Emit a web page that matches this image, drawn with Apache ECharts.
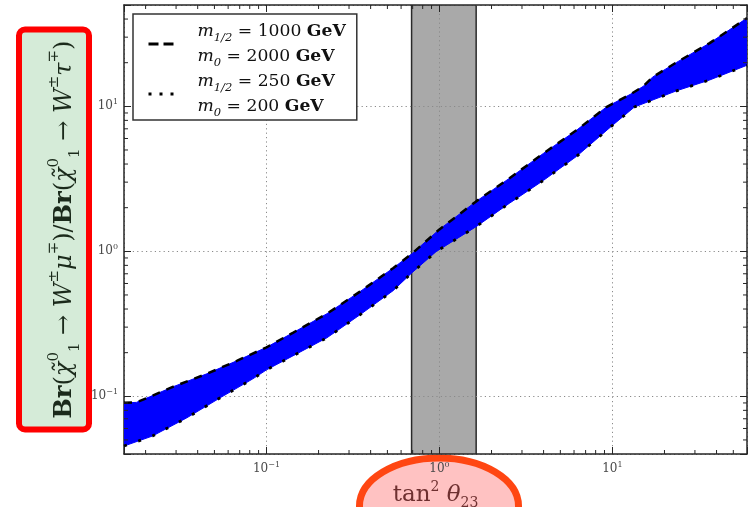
<!DOCTYPE html>
<html>
<head>
<meta charset="utf-8">
<script src="https://cdn.jsdelivr.net/npm/echarts@6/dist/echarts.min.js"></script>
<style>
  html, body { margin: 0; padding: 0; background: #fff; }
  #chart { width: 752px; height: 507px; }
</style>
</head>
<body>
<div id="chart"></div>
<script>
// Edge of the ratio band for (m1/2, m0) = (1000, 2000) GeV  -- upper, dashed
const upperX = [0.015, 0.0177, 0.0211, 0.0287, 0.0451, 0.0673, 0.1, 0.142, 0.2235, 0.347, 0.539, 0.694, 0.995, 1.63, 2.53, 3.985, 6.19, 9.23, 12.7, 15.1, 17.05, 23.5, 36.5, 60];
const upperY = [0.0901, 0.0908, 0.0991, 0.1161, 0.1428, 0.1756, 0.2178, 0.274, 0.371, 0.527, 0.765, 0.964, 1.41, 2.21, 3.18, 4.73, 6.83, 9.89, 12.1, 13.75, 15.9, 20.1, 27.3, 40.6];
// Edge of the ratio band for (m1/2, m0) = (250, 200) GeV  -- lower, dotted
const lowerX = [0.015, 0.0219, 0.0345, 0.0551, 0.0833, 0.1, 0.142, 0.2235, 0.347, 0.539, 0.694, 0.956, 1.63, 2.53, 3.985, 6.19, 10, 13.4, 23.5, 36.5, 60];
const lowerY = [0.0454, 0.0532, 0.0709, 0.0991, 0.1319, 0.1522, 0.190, 0.2533, 0.365, 0.535, 0.7125, 0.995, 1.48, 2.14, 3.08, 4.51, 7.39, 9.89, 12.8, 15.2, 19.2];
// Experimentally allowed tan^2(theta_23) interval
const allowedRange = [0.69, 1.63];

// Axis extents
const xRange = [0.015, 60];
const yRange = [0.04, 50];

// Legend entries
const seriesNames = ['m1/2 = 1000 GeV, m0 = 2000 GeV', 'm1/2 = 250 GeV, m0 = 200 GeV'];
const legendText = {
  'm1/2 = 1000 GeV, m0 = 2000 GeV': ['1000', '2000'],
  'm1/2 = 250 GeV, m0 = 200 GeV': ['250', '200']
};

// Minor tick mantissas of a log axis
const minorMantissas = [2, 3, 4, 5, 6, 7, 8, 9];

function minorTicks(range) {
  const out = [];
  for (let e = Math.floor(Math.log10(range[0])); e <= Math.ceil(Math.log10(range[1])); e++) {
    minorMantissas.forEach(function (m) {
      const v = m * Math.pow(10, e);
      if (v > range[0] * 1.0001 && v < range[1] * 0.9999) out.push(v);
    });
  }
  return out;
}
const minorX = minorTicks(xRange);
const minorY = minorTicks(yRange);

const serif = '"DejaVu Serif", "Liberation Serif", serif';
const frameColor = '#262626';

function powLabel(v) {
  const l = Math.log10(v);
  const e = Math.round(l);
  if (Math.abs(l - e) > 1e-6) return '';
  return '{b|10}{s|' + (e < 0 ? '\u2212' + (-e) : String(e)) + '}';
}
const powRich = {
  b: { fontFamily: serif, fontSize: 12, color: '#4a4a4a', lineHeight: 16 },
  s: { fontFamily: serif, fontSize: 8, color: '#4a4a4a', lineHeight: 8, verticalAlign: 'top' }
};

function axisBase(kind, pos, range, withLabels) {
  return {
    type: 'log',
    logBase: 10,
    position: pos,
    min: range[0],
    max: range[1],
    z: 1,
    axisLine: { show: true, onZero: false, lineStyle: { color: frameColor, width: 1.5 } },
    axisTick: { show: true, inside: true, length: 7, lineStyle: { color: frameColor, width: 1 } },
    minorTick: { show: false },
    axisLabel: withLabels ? {
      show: true, formatter: powLabel, margin: kind === 'x' ? 7 : 6, rich: powRich,
      showMinLabel: true, showMaxLabel: true
    } : { show: false },
    splitLine: withLabels ? { show: true, lineStyle: { color: '#8a8a8a', width: 1, type: [1.2, 3.2] } } : { show: false }
  };
}

const xName = '{t|tan}{s|2}{t| }{i|\u03b8}{u|23}';
const yName = '{b|Br}{n|(}{i|\u03c7\u0303}{sup|0}{sub|1}{n| \u2192 }{i|W}{sup|\u00b1}{i|\u03bc}{sup|\u2213}{n|)/}' +
              '{b|Br}{n|(}{i|\u03c7\u0303}{sup|0}{sub|1}{n| \u2192 }{i|W}{sup|\u00b1}{i|\u03c4}{sup|\u2213}{n|)}';

const xAxisBottom = axisBase('x', 'bottom', xRange, true);
xAxisBottom.name = xName;
xAxisBottom.nameLocation = 'middle';
xAxisBottom.nameGap = 23;
xAxisBottom.nameTextStyle = {
  rich: {
    t: { fontFamily: serif, fontSize: 23, color: '#6e3030', lineHeight: 30 },
    i: { fontFamily: serif, fontStyle: 'italic', fontSize: 23, color: '#6e3030', lineHeight: 30 },
    s: { fontFamily: serif, fontSize: 14, color: '#6e3030', lineHeight: 14, verticalAlign: 'top' },
    u: { fontFamily: serif, fontSize: 14, color: '#6e3030', lineHeight: 12, verticalAlign: 'bottom' }
  }
};

const yAxisLeft = axisBase('y', 'left', yRange, true);
yAxisLeft.name = yName;
yAxisLeft.nameLocation = 'middle';
yAxisLeft.nameGap = 38;
yAxisLeft.nameRotate = 90;
yAxisLeft.nameMoveOverlap = false;
const yNameColor = '#1b2a1b';
yAxisLeft.nameTextStyle = {
  backgroundColor: '#d5ebd8',
  borderColor: '#ff0000',
  borderWidth: 6,
  borderRadius: 3,
  padding: [25, 8, 3, 8],
  rich: {
    b: { fontFamily: serif, fontWeight: 'bold', fontSize: 24, color: yNameColor, lineHeight: 36 },
    n: { fontFamily: serif, fontSize: 24, color: yNameColor, lineHeight: 36 },
    i: { fontFamily: serif, fontStyle: 'italic', fontSize: 24, color: yNameColor, lineHeight: 36 },
    sup: { fontFamily: serif, fontSize: 15, color: yNameColor, lineHeight: 17, verticalAlign: 'top' },
    sub: { fontFamily: serif, fontSize: 15, color: yNameColor, lineHeight: 15, verticalAlign: 'bottom' }
  }
};

function renderAllowed(params, api) {
  const cs = params.coordSys;
  const x0 = api.coord([api.value(0), 1])[0];
  const x1 = api.coord([api.value(1), 1])[0];
  return {
    type: 'group',
    children: [
      { type: 'rect', shape: { x: x0, y: cs.y, width: x1 - x0, height: cs.height }, style: { fill: '#a9a9a9' } },
      { type: 'line', shape: { x1: x0, y1: cs.y, x2: x0, y2: cs.y + cs.height }, style: { stroke: '#2a2a2a', lineWidth: 1.5 } },
      { type: 'line', shape: { x1: x1, y1: cs.y, x2: x1, y2: cs.y + cs.height }, style: { stroke: '#2a2a2a', lineWidth: 1.5 } }
    ]
  };
}

function renderBand(params, api) {
  const pts = [];
  for (let i = 0; i < upperX.length; i++) pts.push(api.coord([upperX[i], upperY[i]]));
  for (let i = lowerX.length - 1; i >= 0; i--) pts.push(api.coord([lowerX[i], lowerY[i]]));
  return { type: 'polygon', shape: { points: pts }, style: { fill: '#0000ff', stroke: '#0000ff', lineWidth: 1 } };
}

function renderMinor(params, api) {
  const cs = params.coordSys;
  const st = { stroke: frameColor, lineWidth: 1 };
  const kids = [];
  const len = 4;
  minorX.forEach(function (v) {
    const x = api.coord([v, 1])[0];
    kids.push({ type: 'line', shape: { x1: x, y1: cs.y + cs.height, x2: x, y2: cs.y + cs.height - len }, style: st });
    kids.push({ type: 'line', shape: { x1: x, y1: cs.y, x2: x, y2: cs.y + len }, style: st });
  });
  minorY.forEach(function (v) {
    const y = api.coord([1, v])[1];
    kids.push({ type: 'line', shape: { x1: cs.x, y1: y, x2: cs.x + len, y2: y }, style: st });
    kids.push({ type: 'line', shape: { x1: cs.x + cs.width, y1: y, x2: cs.x + cs.width - len, y2: y }, style: st });
  });
  return { type: 'group', children: kids };
}

function legendFormatter(name) {
  const v = legendText[name];
  return '{i|m}{s|1/2}{n| = ' + v[0] + ' }{b|GeV}\n{i|m}{s|0}{n| = ' + v[1] + ' }{b|GeV}';
}

const chart = echarts.init(document.getElementById('chart'), null, { renderer: 'canvas' });
chart.setOption({
  animation: false,
  backgroundColor: '#ffffff',
  grid: { left: 124, right: 5, top: 5, bottom: 53, containLabel: false, outerBoundsMode: 'none' },
  xAxis: [xAxisBottom, axisBase('x', 'top', xRange, false)],
  yAxis: [yAxisLeft, axisBase('y', 'right', yRange, false)],
  legend: {
    data: [
      { name: seriesNames[0], lineStyle: { width: 3, type: [10, 5] } },
      { name: seriesNames[1], lineStyle: { width: 3, type: [3, 8] } }
    ],
    orient: 'vertical',
    left: 133,
    top: 14,
    backgroundColor: '#ffffff',
    borderColor: '#333333',
    borderWidth: 1.5,
    borderRadius: 0,
    padding: [9, 11, 1, 14],
    itemGap: 4,
    itemWidth: 28,
    itemHeight: 10,
    itemStyle: { opacity: 0 },
    formatter: legendFormatter,
    textStyle: {
      padding: [0, 0, 0, 16],
      rich: {
        i: { fontFamily: serif, fontStyle: 'italic', fontSize: 17.2, color: '#111', lineHeight: 25 },
        n: { fontFamily: serif, fontSize: 17.2, color: '#111', lineHeight: 25 },
        b: { fontFamily: serif, fontWeight: 'bold', fontSize: 17.2, color: '#111', lineHeight: 25 },
        s: { fontFamily: serif, fontStyle: 'italic', fontSize: 11.5, color: '#111', lineHeight: 16, verticalAlign: 'bottom' }
      }
    }
  },
  graphic: [{
    type: 'ellipse',
    shape: { cx: 439, cy: 506, rx: 79.5, ry: 48 },
    style: { fill: '#ffc2c2', stroke: '#ff4612', lineWidth: 7 },
    z: 0
  }],
  series: [
    {
      type: 'custom', name: 'allowed', coordinateSystem: 'cartesian2d', z: 0,
      renderItem: renderAllowed, data: [allowedRange], silent: true
    },
    {
      type: 'custom', name: 'band', coordinateSystem: 'cartesian2d', z: 2, clip: true,
      renderItem: renderBand, data: [[1, 1]], silent: true
    },
    {
      type: 'line', name: seriesNames[0], z: 3, symbol: 'none', showSymbol: false, silent: true,
      data: upperX.map(function (x, i) { return [x, upperY[i]]; }),
      itemStyle: { color: '#000' },
      lineStyle: { color: '#000', width: 2.5, type: [8, 7] }
    },
    {
      type: 'line', name: seriesNames[1], z: 3, symbol: 'none', showSymbol: false, silent: true,
      data: lowerX.map(function (x, i) { return [x, lowerY[i]]; }),
      itemStyle: { color: '#000' },
      lineStyle: { color: '#000', width: 2.8, type: [3, 12] }
    },
    {
      type: 'custom', name: 'minor', coordinateSystem: 'cartesian2d', z: 4,
      renderItem: renderMinor, data: [[1, 1]], silent: true
    }
  ]
});
</script>
</body>
</html>
